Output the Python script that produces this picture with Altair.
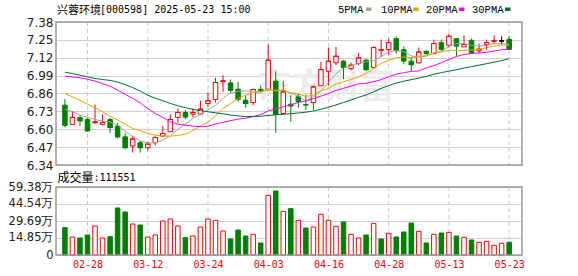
import altair as alt
import pandas as pd

# ---------------- data ----------------
title_name = "兴蓉环境"
title_rest = "[000598] 2025-05-23 15:00"
vol_title = "成交量"
vol_last = ":111551"
watermark = "东方财富"

dates = ["02-25", "02-26", "02-27", "02-28",
         "03-03", "03-04", "03-05", "03-06", "03-07", "03-10", "03-11", "03-12",
         "03-13", "03-14", "03-17", "03-18", "03-19", "03-20", "03-21", "03-24",
         "03-25", "03-26", "03-27", "03-28", "03-31", "04-01", "04-02", "04-03",
         "04-07", "04-08", "04-09", "04-10", "04-11", "04-14", "04-15", "04-16",
         "04-17", "04-18", "04-21", "04-22", "04-23", "04-24", "04-25", "04-28",
         "04-29", "04-30", "05-06", "05-07", "05-08", "05-09", "05-12", "05-13",
         "05-14", "05-15", "05-16", "05-19", "05-20", "05-21", "05-22", "05-23"]

opens = [6.775, 6.635, 6.684, 6.671,
         6.647, 6.635, 6.671, 6.623, 6.545, 6.478, 6.502, 6.466,
         6.502, 6.550, 6.582, 6.686, 6.722, 6.710, 6.710, 6.787,
         6.816, 6.945, 6.937, 6.891, 6.811, 6.794, 6.891, 6.891,
         6.950, 6.715, 6.782, 6.836, 6.780, 6.794, 6.916, 7.022,
         7.083, 7.095, 7.041, 7.078, 7.102, 7.049, 7.174, 7.179,
         7.259, 7.179, 7.095, 7.082, 7.167, 7.150, 7.230, 7.211,
         7.259, 7.199, 7.247, 7.170, 7.216, 7.240, 7.242, 7.254]
highs = [6.819, 6.732, 6.703, 6.681,
         6.780, 6.708, 6.683, 6.647, 6.574, 6.550, 6.514, 6.509,
         6.555, 6.623, 6.708, 6.751, 6.739, 6.751, 6.807, 6.867,
         6.974, 6.993, 6.962, 6.945, 6.848, 6.896, 6.920, 7.216,
         7.022, 6.950, 6.850, 6.860, 6.853, 6.920, 7.090, 7.194,
         7.199, 7.102, 7.085, 7.155, 7.114, 7.204, 7.252, 7.259,
         7.276, 7.203, 7.119, 7.194, 7.174, 7.252, 7.252, 7.295,
         7.259, 7.283, 7.259, 7.223, 7.252, 7.283, 7.276, 7.276]
lows = [6.613, 6.635, 6.625, 6.582,
        6.640, 6.630, 6.574, 6.533, 6.454, 6.430, 6.430, 6.444,
        6.483, 6.545, 6.582, 6.647, 6.673, 6.686, 6.705, 6.763,
        6.794, 6.872, 6.865, 6.800, 6.756, 6.775, 6.865, 6.890,
        6.574, 6.707, 6.654, 6.756, 6.740, 6.740, 6.916, 6.920,
        7.066, 6.964, 7.029, 7.066, 7.022, 7.041, 7.126, 7.138,
        7.150, 7.073, 7.022, 7.080, 7.143, 7.150, 7.170, 7.194,
        7.133, 7.199, 7.150, 7.155, 7.179, 7.223, 7.216, 7.182]
closes = [6.630, 6.686, 6.662, 6.589,
          6.654, 6.649, 6.613, 6.545, 6.466, 6.529, 6.466, 6.492,
          6.540, 6.569, 6.671, 6.722, 6.690, 6.722, 6.746, 6.807,
          6.940, 6.952, 6.884, 6.819, 6.787, 6.889, 6.884, 7.102,
          6.707, 6.872, 6.770, 6.804, 6.777, 6.908, 7.034, 7.095,
          7.131, 7.050, 7.066, 7.119, 7.034, 7.194, 7.179, 7.230,
          7.174, 7.097, 7.070, 7.162, 7.150, 7.223, 7.182, 7.276,
          7.206, 7.216, 7.155, 7.182, 7.230, 7.243, 7.242, 7.182]

# volume in 万 (10k)
volumes = [23.87, 15.72, 14.85, 17.47,
           25.33, 14.85, 16.01, 41.05, 37.55, 27.07, 26.20, 15.72,
           17.47, 29.69, 31.44, 25.33, 15.14, 16.59, 24.45, 31.44,
           30.27, 20.96, 13.97, 21.83, 16.59, 18.05, 10.48, 52.10,
           55.89, 38.13, 40.46, 30.27, 23.58, 24.45, 35.51, 30.27,
           25.03, 28.82, 18.05, 14.85, 17.47, 27.65, 13.97, 18.92,
           15.72, 20.09, 27.95, 20.67, 10.48, 18.05, 19.21, 19.79,
           16.59, 15.43, 13.10, 11.06, 11.94, 8.44, 10.19, 11.16]
# 1 = red (up) bar, 0 = green (down) bar
vol_up = [0, 1, 0, 0,
          1, 1, 0, 0, 0, 1, 0, 1,
          1, 1, 1, 1, 0, 1, 1, 1,
          1, 1, 0, 0, 0, 1, 0, 1,
          0, 1, 0, 1, 0, 1, 1, 1,
          1, 0, 1, 1, 0, 1, 0, 1,
          0, 0, 0, 1, 0, 1, 0, 1,
          0, 1, 0, 1, 1, 1, 1, 0]

ma5 = [6.746, 6.727, 6.703, 6.686,
       6.671, 6.659, 6.654, 6.630, 6.587, 6.550, 6.516, 6.499,
       6.502, 6.521, 6.552, 6.599, 6.637, 6.678, 6.710, 6.741,
       6.775, 6.824, 6.864, 6.877, 6.879, 6.877, 6.872, 6.892,
       6.878, 6.884, 6.861, 6.841, 6.805, 6.837, 6.878, 6.940,
       7.003, 7.046, 7.061, 7.078, 7.090, 7.100, 7.130, 7.162,
       7.172, 7.165, 7.133, 7.126, 7.131, 7.155, 7.165, 7.203,
       7.223, 7.223, 7.211, 7.205, 7.211, 7.223, 7.223, 7.218]
ma10 = [6.860, 6.836, 6.811, 6.782,
        6.756, 6.727, 6.695, 6.666, 6.637, 6.605, 6.589, 6.570,
        6.558, 6.550, 6.550, 6.555, 6.565, 6.589, 6.625, 6.650,
        6.698, 6.751, 6.787, 6.824, 6.848, 6.865, 6.872, 6.884,
        6.884, 6.884, 6.867, 6.855, 6.840, 6.848, 6.879, 6.897,
        6.928, 6.945, 6.962, 6.981, 7.005, 7.041, 7.078, 7.102,
        7.119, 7.125, 7.121, 7.126, 7.138, 7.155, 7.162, 7.174,
        7.174, 7.174, 7.176, 7.180, 7.194, 7.206, 7.212, 7.212]
ma20 = [6.986, 6.981, 6.974, 6.964,
        6.950, 6.932, 6.913, 6.884, 6.855, 6.824, 6.792, 6.751,
        6.715, 6.686, 6.654, 6.637, 6.630, 6.623, 6.618, 6.622,
        6.638, 6.651, 6.662, 6.674, 6.680, 6.692, 6.706, 6.734,
        6.746, 6.763, 6.778, 6.794, 6.806, 6.823, 6.841, 6.859,
        6.882, 6.898, 6.914, 6.930, 6.934, 6.946, 6.961, 6.982,
        7.001, 7.011, 7.021, 7.024, 7.046, 7.063, 7.084, 7.108,
        7.129, 7.144, 7.150, 7.155, 7.160, 7.169, 7.178, 7.181]
ma30 = [7.015, 7.005, 6.993, 6.981,
        6.969, 6.962, 6.955, 6.943, 6.925, 6.903, 6.878, 6.848,
        6.826, 6.807, 6.788, 6.771, 6.757, 6.745, 6.735, 6.727,
        6.720, 6.712, 6.703, 6.697, 6.692, 6.693, 6.695, 6.700,
        6.705, 6.709, 6.713, 6.718, 6.724, 6.733, 6.745, 6.760,
        6.777, 6.795, 6.813, 6.832, 6.850, 6.872, 6.897, 6.918,
        6.936, 6.949, 6.961, 6.972, 6.985, 7.000, 7.012, 7.023,
        7.033, 7.045, 7.056, 7.066, 7.077, 7.088, 7.099, 7.113]

ma_names = ["5PMA", "10PMA", "20PMA", "30PMA"]
ma_colors = ["#a0a0a0", "#f0a000", "#ff00ff", "#006f35"]

price_ticks = [6.34, 6.47, 6.60, 6.73, 6.86, 6.99, 7.12, 7.25, 7.38]
vol_ticks = [0, 14.85, 29.69, 44.54, 59.38]
label_dates = ["02-28", "03-12", "03-24", "04-03", "04-16", "04-28", "05-13", "05-23"]

# ---------------- styling / layout ----------------
RED = "#ff0000"
GREEN = "#008000"
BLACK = "#000000"
W, H = 466, 233
P_RANGE = [143, 0]
V_RANGE = [233, 165]
GRID = "#d0d0d0"
BORDER = "#999999"

n = len(dates)


def ccolor(o, c):
    if c > o:
        return RED
    if c < o:
        return GREEN
    return BLACK


stroke_c = [ccolor(o, c) for o, c in zip(opens, closes)]
fill_c = ["#ffffff" if s == RED else s for s in stroke_c]

df = pd.DataFrame({
    "idx": list(range(n)),
    "date": dates,
    "open": opens, "high": highs, "low": lows, "close": closes,
    "lo": [min(o, c) for o, c in zip(opens, closes)],
    "hi": [max(o, c) for o, c in zip(opens, closes)],
    "stroke": stroke_c, "fill": fill_c,
    "vol": volumes,
    "vstroke": [RED if u else GREEN for u in vol_up],
    "vfill": ["#ffffff" if u else GREEN for u in vol_up],
})

ma_series = [ma5, ma10, ma20, ma30]
df_ma = pd.concat([
    pd.DataFrame({"idx": list(range(n)), "value": s, "series": name})
    for name, s in zip(ma_names, ma_series)
], ignore_index=True)

grid_idx = [dates.index(d) for d in label_dates]
df_grid = pd.DataFrame({"idx": grid_idx})
one = pd.DataFrame({"k": [0]})

xscale = alt.Scale(domain=[-0.52, 60.04], nice=False, zero=False)
label_expr = "[" + ",".join("'%s'" % d for d in dates) + "][datum.value]"
xaxis = alt.Axis(values=grid_idx, labelExpr=label_expr, grid=False, domain=False,
                 ticks=False, tickSize=0, labelColor=RED, labelFont="DejaVu Sans Mono",
                 labelFontSize=10, labelPadding=4, labelFlush=False, labelOverlap=False,
                 title=None)


def X(field):
    return alt.X(field, type="quantitative", scale=xscale, axis=xaxis)


pscale = alt.Scale(domain=[6.34, 7.38], range=P_RANGE, nice=False, zero=False)
paxis = alt.Axis(values=price_ticks, format=".2f", grid=True, gridColor=GRID,
                 gridWidth=1, domain=False, ticks=False, tickSize=0,
                 labelFont="DejaVu Sans", labelFontSize=12, labelColor="#222222",
                 labelPadding=3, labelFlush=False, labelOverlap=False, title=None,
                 orient="left")
vscale = alt.Scale(domain=[0, 59.38], range=V_RANGE, nice=False, zero=True)
vaxis = alt.Axis(values=vol_ticks,
                 labelExpr="datum.value == 0 ? '0' : format(datum.value, '.2f') + '万'",
                 grid=True, gridColor=GRID, gridWidth=1, domain=False, ticks=False,
                 tickSize=0, labelFont="DejaVu Sans", labelFontSize=11.5,
                 labelColor="#222222", labelPadding=3, labelFlush=False,
                 labelOverlap=False, title=None, orient="left")


def PY(field=None, datum=None):
    if datum is not None:
        return alt.Y(datum=datum, type="quantitative", scale=pscale, axis=paxis)
    return alt.Y(field, type="quantitative", scale=pscale, axis=paxis)


def VY(field=None, datum=None):
    if datum is not None:
        return alt.Y(datum=datum, type="quantitative", scale=vscale, axis=vaxis)
    return alt.Y(field, type="quantitative", scale=vscale, axis=vaxis)


# ---------------- price panel ----------------
p_vgrid = alt.Chart(df_grid).mark_rule(color="#c8c8c8", strokeDash=[4, 3], strokeWidth=1).encode(
    x=X("idx"), y=PY(datum=price_ticks[-1]), y2=alt.Y2(datum=price_ticks[0]))

p_water = alt.Chart(pd.DataFrame({"t": [watermark]})).mark_text(
    font="Noto Sans CJK SC", fontSize=34, fontWeight="bold", color="#ebebeb",
    align="center", baseline="middle").encode(
    x=alt.value(270), y=alt.value(66), text="t:N")

wick = alt.Chart(df).mark_rule(strokeWidth=1).encode(
    x=X("idx"), y=PY("low"), y2=alt.Y2("high"),
    color=alt.Color("stroke:N", scale=None))

body = alt.Chart(df).mark_bar(size=4.5, strokeWidth=1).encode(
    x=X("idx"), y=PY("lo"), y2=alt.Y2("hi"),
    fill=alt.Fill("fill:N", scale=None), stroke=alt.Stroke("stroke:N", scale=None))

flat = alt.Chart(df).transform_calculate(
    xl="datum.idx - 0.33", xr="datum.idx + 0.33").mark_rule(strokeWidth=1).encode(
    x=X("xl"), x2=alt.X2("xr"), y=PY("close"),
    color=alt.Color("stroke:N", scale=None))

ma_lines = alt.Chart(df_ma).mark_line(strokeWidth=1).encode(
    x=X("idx"), y=PY("value"),
    color=alt.Color("series:N", scale=alt.Scale(domain=ma_names, range=ma_colors), legend=None),
    detail="series:N")

p_border = alt.Chart(one).mark_rect(fillOpacity=0, stroke=BORDER, strokeWidth=1.5).encode(
    x=alt.value(0), x2=alt.value(W), y=PY(datum=price_ticks[-1]), y2=alt.Y2(datum=price_ticks[0]))

price = alt.layer(p_vgrid, p_water, wick, body, flat, ma_lines, p_border)

# ---------------- volume panel ----------------
v_vgrid = alt.Chart(df_grid).mark_rule(color="#c8c8c8", strokeDash=[4, 3], strokeWidth=1).encode(
    x=X("idx"), y=VY(datum=vol_ticks[-1]), y2=alt.Y2(datum=vol_ticks[0]))

vbars = alt.Chart(df).mark_bar(size=4.5, strokeWidth=1).encode(
    x=X("idx"), y=VY("vol"),
    fill=alt.Fill("vfill:N", scale=None), stroke=alt.Stroke("vstroke:N", scale=None))

v_border = alt.Chart(one).mark_rect(fillOpacity=0, stroke=BORDER, strokeWidth=1.5).encode(
    x=alt.value(0), x2=alt.value(W), y=VY(datum=vol_ticks[-1]), y2=alt.Y2(datum=vol_ticks[0]))

volume = alt.layer(v_vgrid, vbars, v_border)


# ---------------- texts ----------------
def text_layer(txt, x, y, font, size, color="#000000", align="left"):
    return alt.Chart(pd.DataFrame({"t": [txt]})).mark_text(
        align=align, baseline="alphabetic", font=font, fontSize=size, color=color).encode(
        x=alt.value(x), y=alt.value(y), text="t:N")


texts = [
    text_layer(title_name, 1, -8.5, "Noto Sans CJK SC", 11),
    text_layer(title_rest, 44, -9.5, "DejaVu Sans Mono", 10),
    text_layer(vol_title, 1.5, 159.5, "Noto Sans CJK SC", 12),
    text_layer(vol_last, 37.5, 159, "DejaVu Sans Mono", 10),
]

leg_text_x = [282, 325, 370, 416]
leg_box_x = [310, 357, 403, 449]
for name, col, tx, bx in zip(ma_names, ma_colors, leg_text_x, leg_box_x):
    texts.append(text_layer(name, tx, -9.5, "Liberation Mono", 10.5))
    texts.append(alt.Chart(one).mark_rect(color=col).encode(
        x=alt.value(bx), x2=alt.value(bx + 5.5), y=alt.value(-14.5), y2=alt.value(-11)))

chart = alt.layer(price, volume, *texts).resolve_scale(y="independent").properties(
    width=W, height=H,
    padding={"left": 56, "top": 22, "right": 56, "bottom": 21},
    autosize=alt.AutoSizeParams(type="none"),
    background="#ffffff",
).configure_view(stroke=None)

chart.save("out.html", embed_options={"renderer": "svg", "actions": False})
